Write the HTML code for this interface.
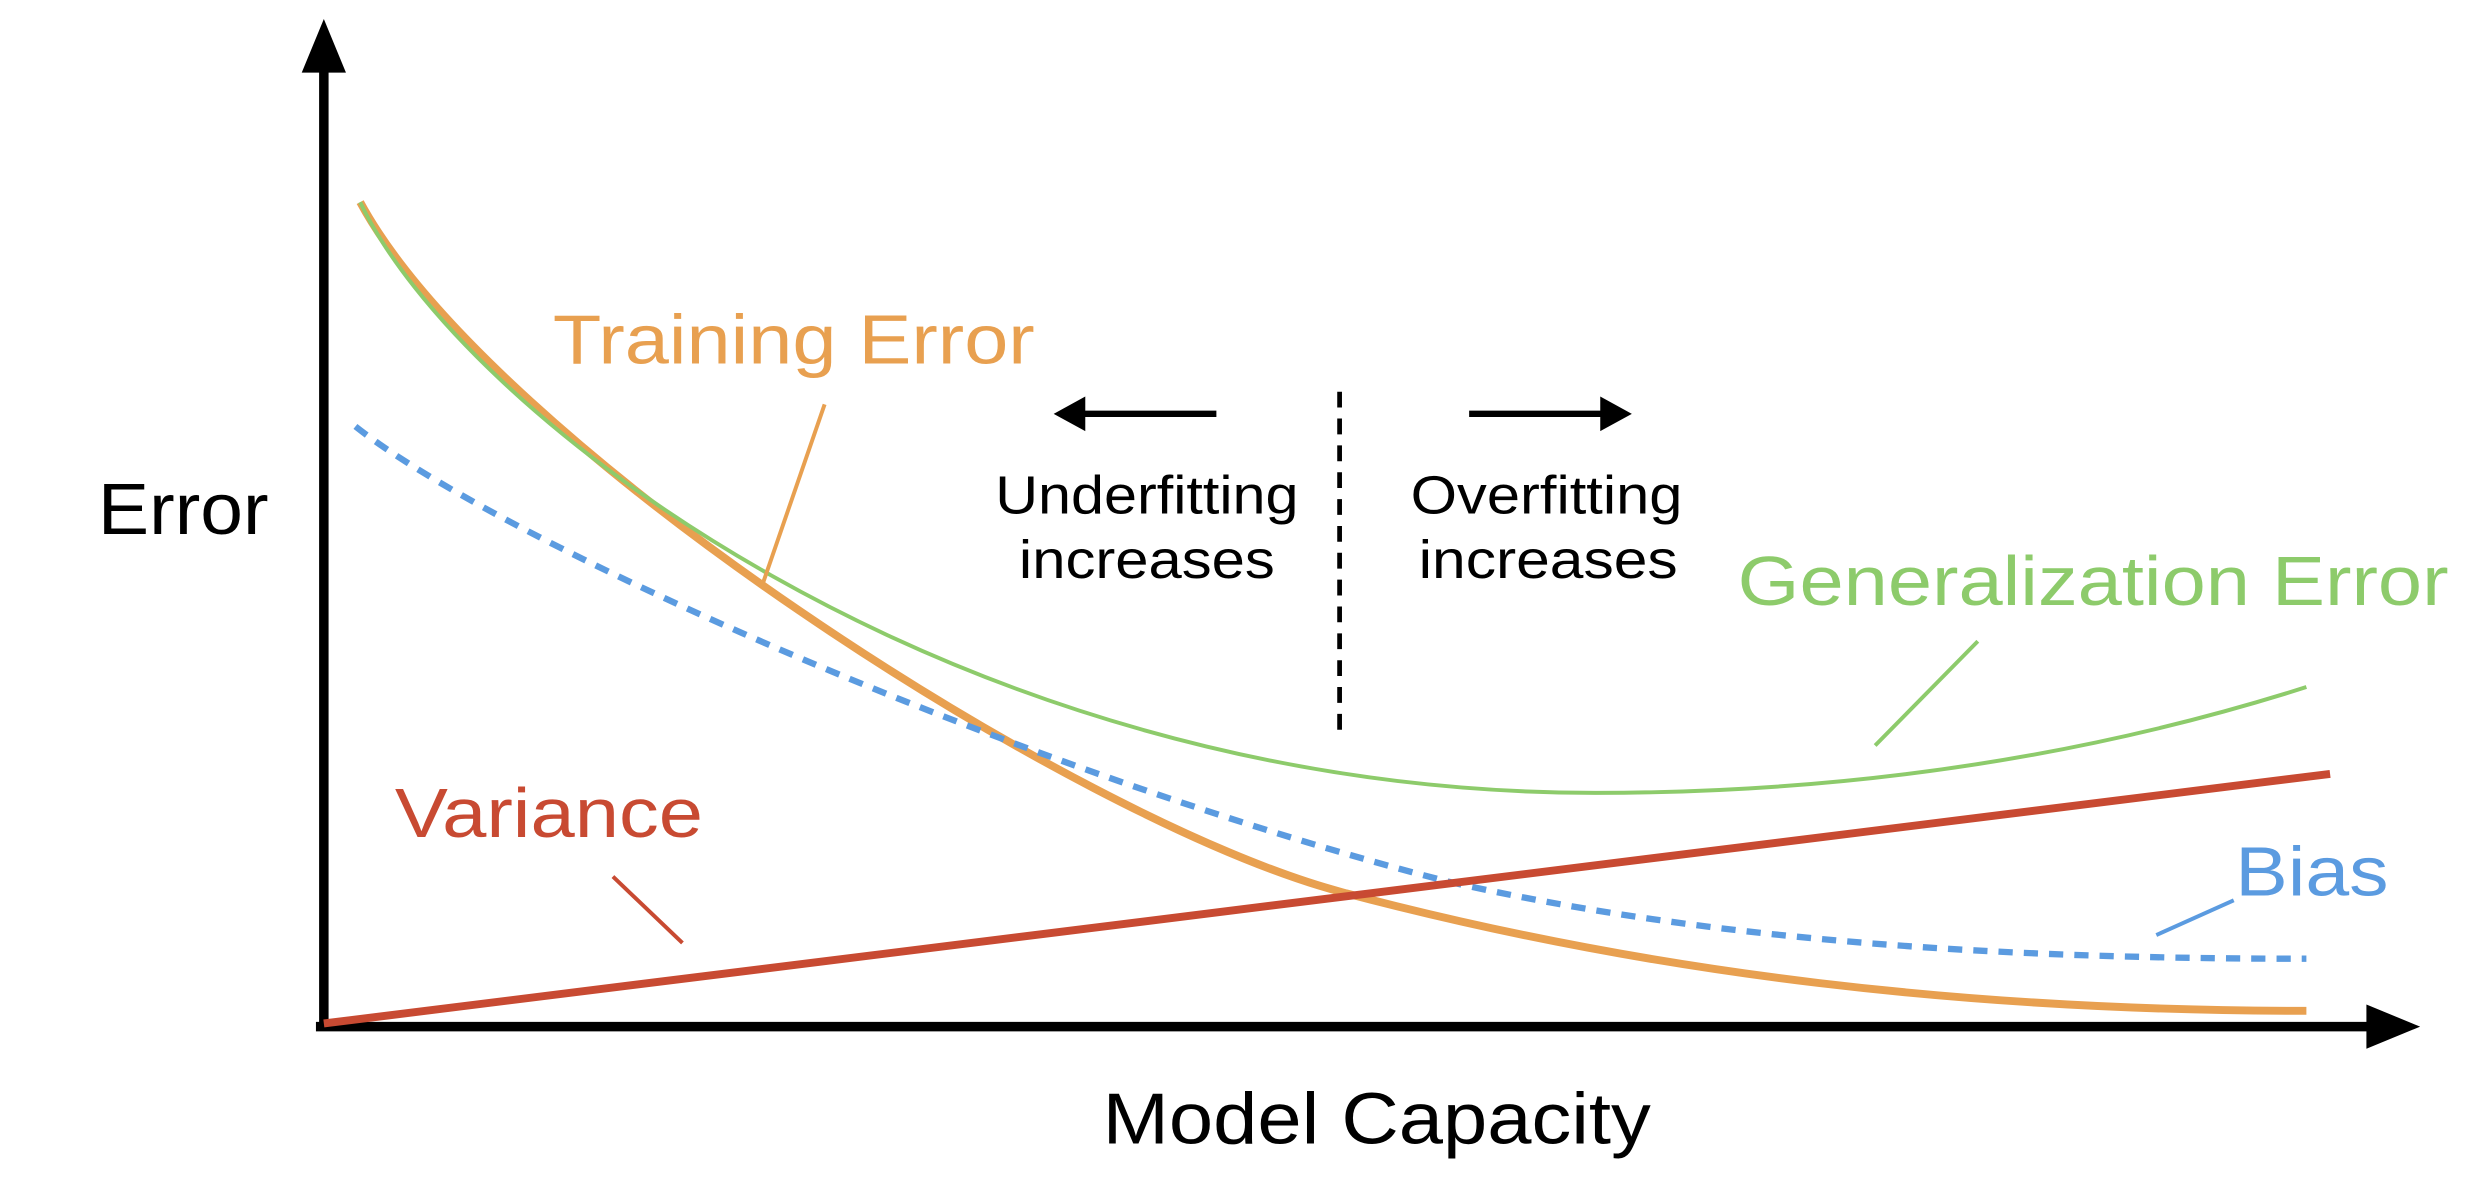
<!DOCTYPE html>
<html><head><style>html,body{margin:0;padding:0;background:#fff}svg{display:block}</style></head>
<body>
<svg width="2477" height="1183" viewBox="0 0 1568 749" preserveAspectRatio="none" xmlns="http://www.w3.org/2000/svg" font-family="Liberation Sans, sans-serif">
<rect width="1568" height="749" fill="#fff"/>
<line x1="205" y1="40" x2="205" y2="652" stroke="#000" stroke-width="6"/>
<polygon points="205,12 191,46 219,46" fill="#000"/>
<line x1="200" y1="650" x2="1505" y2="650" stroke="#000" stroke-width="6"/>
<polygon points="1532,650 1498,636 1498,664" fill="#000"/>
<text x="62" y="338" font-size="46" textLength="108" lengthAdjust="spacingAndGlyphs">Error</text>
<text x="698" y="724" font-size="46" textLength="347" lengthAdjust="spacingAndGlyphs">Model Capacity</text>
<path d="M228,128 C310,280 680,520 850,565 C1050,618 1250,640 1460,640" fill="none" stroke="#E8A050" stroke-width="5"/>
<path d="M228,128 C290,260 600,502 1010,502 C1200,502 1350,470 1460,435" fill="none" stroke="#8DCB6B" stroke-width="2.5"/>
<path d="M225,270 C320,345 650,490 916,558 C1100,600 1300,607 1460,607" fill="none" stroke="#5B9BE0" stroke-width="4" stroke-dasharray="9,7"/>
<line x1="205" y1="648" x2="1475" y2="490" stroke="#C84A32" stroke-width="5"/>
<text x="350" y="230" font-size="44" fill="#E8A050" textLength="305" lengthAdjust="spacingAndGlyphs">Training Error</text>
<line x1="522" y1="256" x2="482" y2="372" stroke="#E8A050" stroke-width="2.5"/>
<text x="1100" y="383" font-size="44" fill="#8DCB6B" textLength="450" lengthAdjust="spacingAndGlyphs">Generalization Error</text>
<line x1="1252" y1="406" x2="1187" y2="472" stroke="#8DCB6B" stroke-width="2.5"/>
<text x="250" y="530" font-size="44" fill="#C84A32" textLength="195" lengthAdjust="spacingAndGlyphs">Variance</text>
<line x1="388" y1="555" x2="432" y2="597" stroke="#C84A32" stroke-width="2.5"/>
<text x="1415" y="567" font-size="44" fill="#5B9BE0" textLength="97" lengthAdjust="spacingAndGlyphs">Bias</text>
<line x1="1414" y1="570" x2="1365" y2="592" stroke="#5B9BE0" stroke-width="2.5"/>
<line x1="848" y1="248" x2="848" y2="468" stroke="#000" stroke-width="3" stroke-dasharray="10,7"/>
<line x1="685" y1="262" x2="770" y2="262" stroke="#000" stroke-width="4"/>
<polygon points="667,262 687,251 687,273" fill="#000"/>
<line x1="930" y1="262" x2="1015" y2="262" stroke="#000" stroke-width="4"/>
<polygon points="1033,262 1013,251 1013,273" fill="#000"/>
<text x="630" y="325" font-size="34" textLength="192" lengthAdjust="spacingAndGlyphs">Underfitting</text>
<text x="645" y="366" font-size="34" textLength="162" lengthAdjust="spacingAndGlyphs">increases</text>
<text x="893" y="325" font-size="34" textLength="172" lengthAdjust="spacingAndGlyphs">Overfitting</text>
<text x="898" y="366" font-size="34" textLength="164" lengthAdjust="spacingAndGlyphs">increases</text>
</svg>
</body></html>
